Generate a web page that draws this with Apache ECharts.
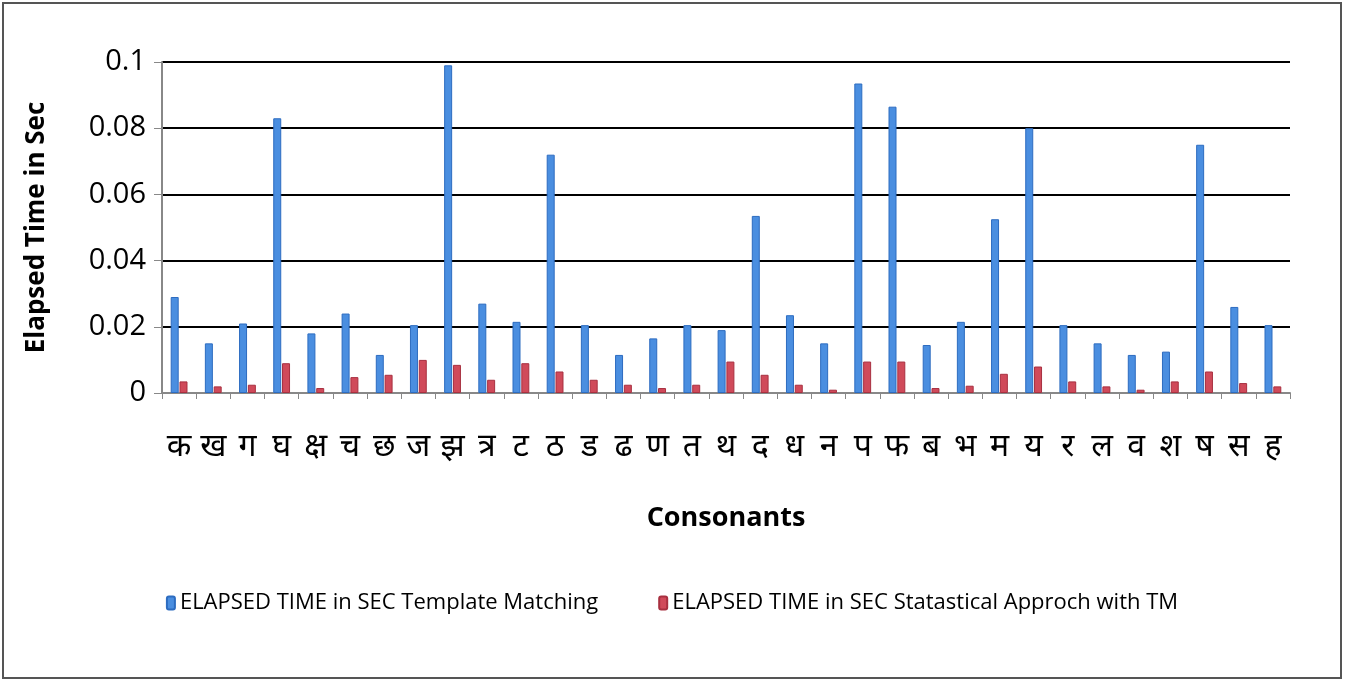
<!DOCTYPE html>
<html>
<head>
<meta charset="utf-8">
<script src="https://cdn.jsdelivr.net/npm/echarts@6/dist/echarts.min.js"></script>
<style>
html,body{margin:0;padding:0;background:#fff;}
#chart{position:absolute;left:2px;top:2px;width:1340px;height:677px;border:2px solid #555;box-sizing:border-box;}
</style>
</head>
<body>
<div id="chart"></div>
<script>
var categories = ['क','ख','ग','घ','क्ष','च','छ','ज','झ','त्र','ट','ठ','ड','ढ','ण','त','थ','द','ध','न','प','फ','ब','भ','म','य','र','ल','व','श','ष','स','ह'];
var templateMatching = [0.029,0.015,0.021,0.083,0.018,0.024,0.0115,0.0205,0.099,0.027,0.0215,0.072,0.0205,0.0115,0.0165,0.0205,0.019,0.0535,0.0235,0.015,0.0935,0.0865,0.0145,0.0215,0.0525,0.080,0.0205,0.015,0.0115,0.0125,0.075,0.026,0.0205];
var statApproach = [0.0035,0.002,0.0025,0.009,0.0015,0.0048,0.0055,0.010,0.0085,0.004,0.009,0.0065,0.004,0.0025,0.0015,0.0025,0.0095,0.0055,0.0025,0.001,0.0095,0.0095,0.0015,0.0022,0.0058,0.008,0.0035,0.002,0.001,0.0035,0.0065,0.003,0.002];
var seriesNames = ['ELAPSED TIME in SEC Template Matching','ELAPSED TIME in SEC Statastical Approch with TM'];

var chart = echarts.init(document.getElementById('chart'));
chart.setOption({
    animation: false,
    textStyle: {fontFamily: 'Open Sans'},
    grid: {left: 158, right: 50, top: 58, bottom: 284},
    legend: {
        bottom: 58,
        itemWidth: 8, itemHeight: 13, itemGap: 60,
        textStyle: {fontSize: 22, color: '#000'},
        data: seriesNames
    },
    xAxis: {
        type: 'category',
        data: categories,
        name: 'Consonants',
        nameLocation: 'middle',
        nameGap: 112,
        nameTextStyle: {fontSize: 27, fontWeight: 'bold', color: '#000'},
        axisLine: {lineStyle: {color: '#888', width: 2}},
        axisTick: {show: true, length: 6, lineStyle: {color: '#888'}},
        axisLabel: {fontSize: 32, color: '#000', margin: 38, interval: 0, fontFamily: 'Noto Sans'}
    },
    yAxis: {
        type: 'value',
        min: 0, max: 0.1, interval: 0.02,
        name: 'Elapsed Time in Sec',
        nameLocation: 'middle',
        nameGap: 112,
        nameTextStyle: {fontSize: 26, fontWeight: 'bold', color: '#000'},
        axisLine: {show: true, lineStyle: {color: '#888', width: 2}},
        axisTick: {show: true, length: 8, lineStyle: {color: '#888'}},
        axisLabel: {fontSize: 29, color: '#000', margin: 16},
        splitLine: {lineStyle: {color: '#000', width: 2}}
    },
    series: [{
        name: seriesNames[0],
        type: 'bar',
        data: templateMatching,
        barWidth: 8,
        barGap: '10%',
        itemStyle: {color: '#4a8ee0', borderColor: '#2d6cc0', borderWidth: 1}
    }, {
        name: seriesNames[1],
        type: 'bar',
        data: statApproach,
        barWidth: 8,
        itemStyle: {color: '#d04a5a', borderColor: '#a83040', borderWidth: 1}
    }]
});
</script>
</body>
</html>
